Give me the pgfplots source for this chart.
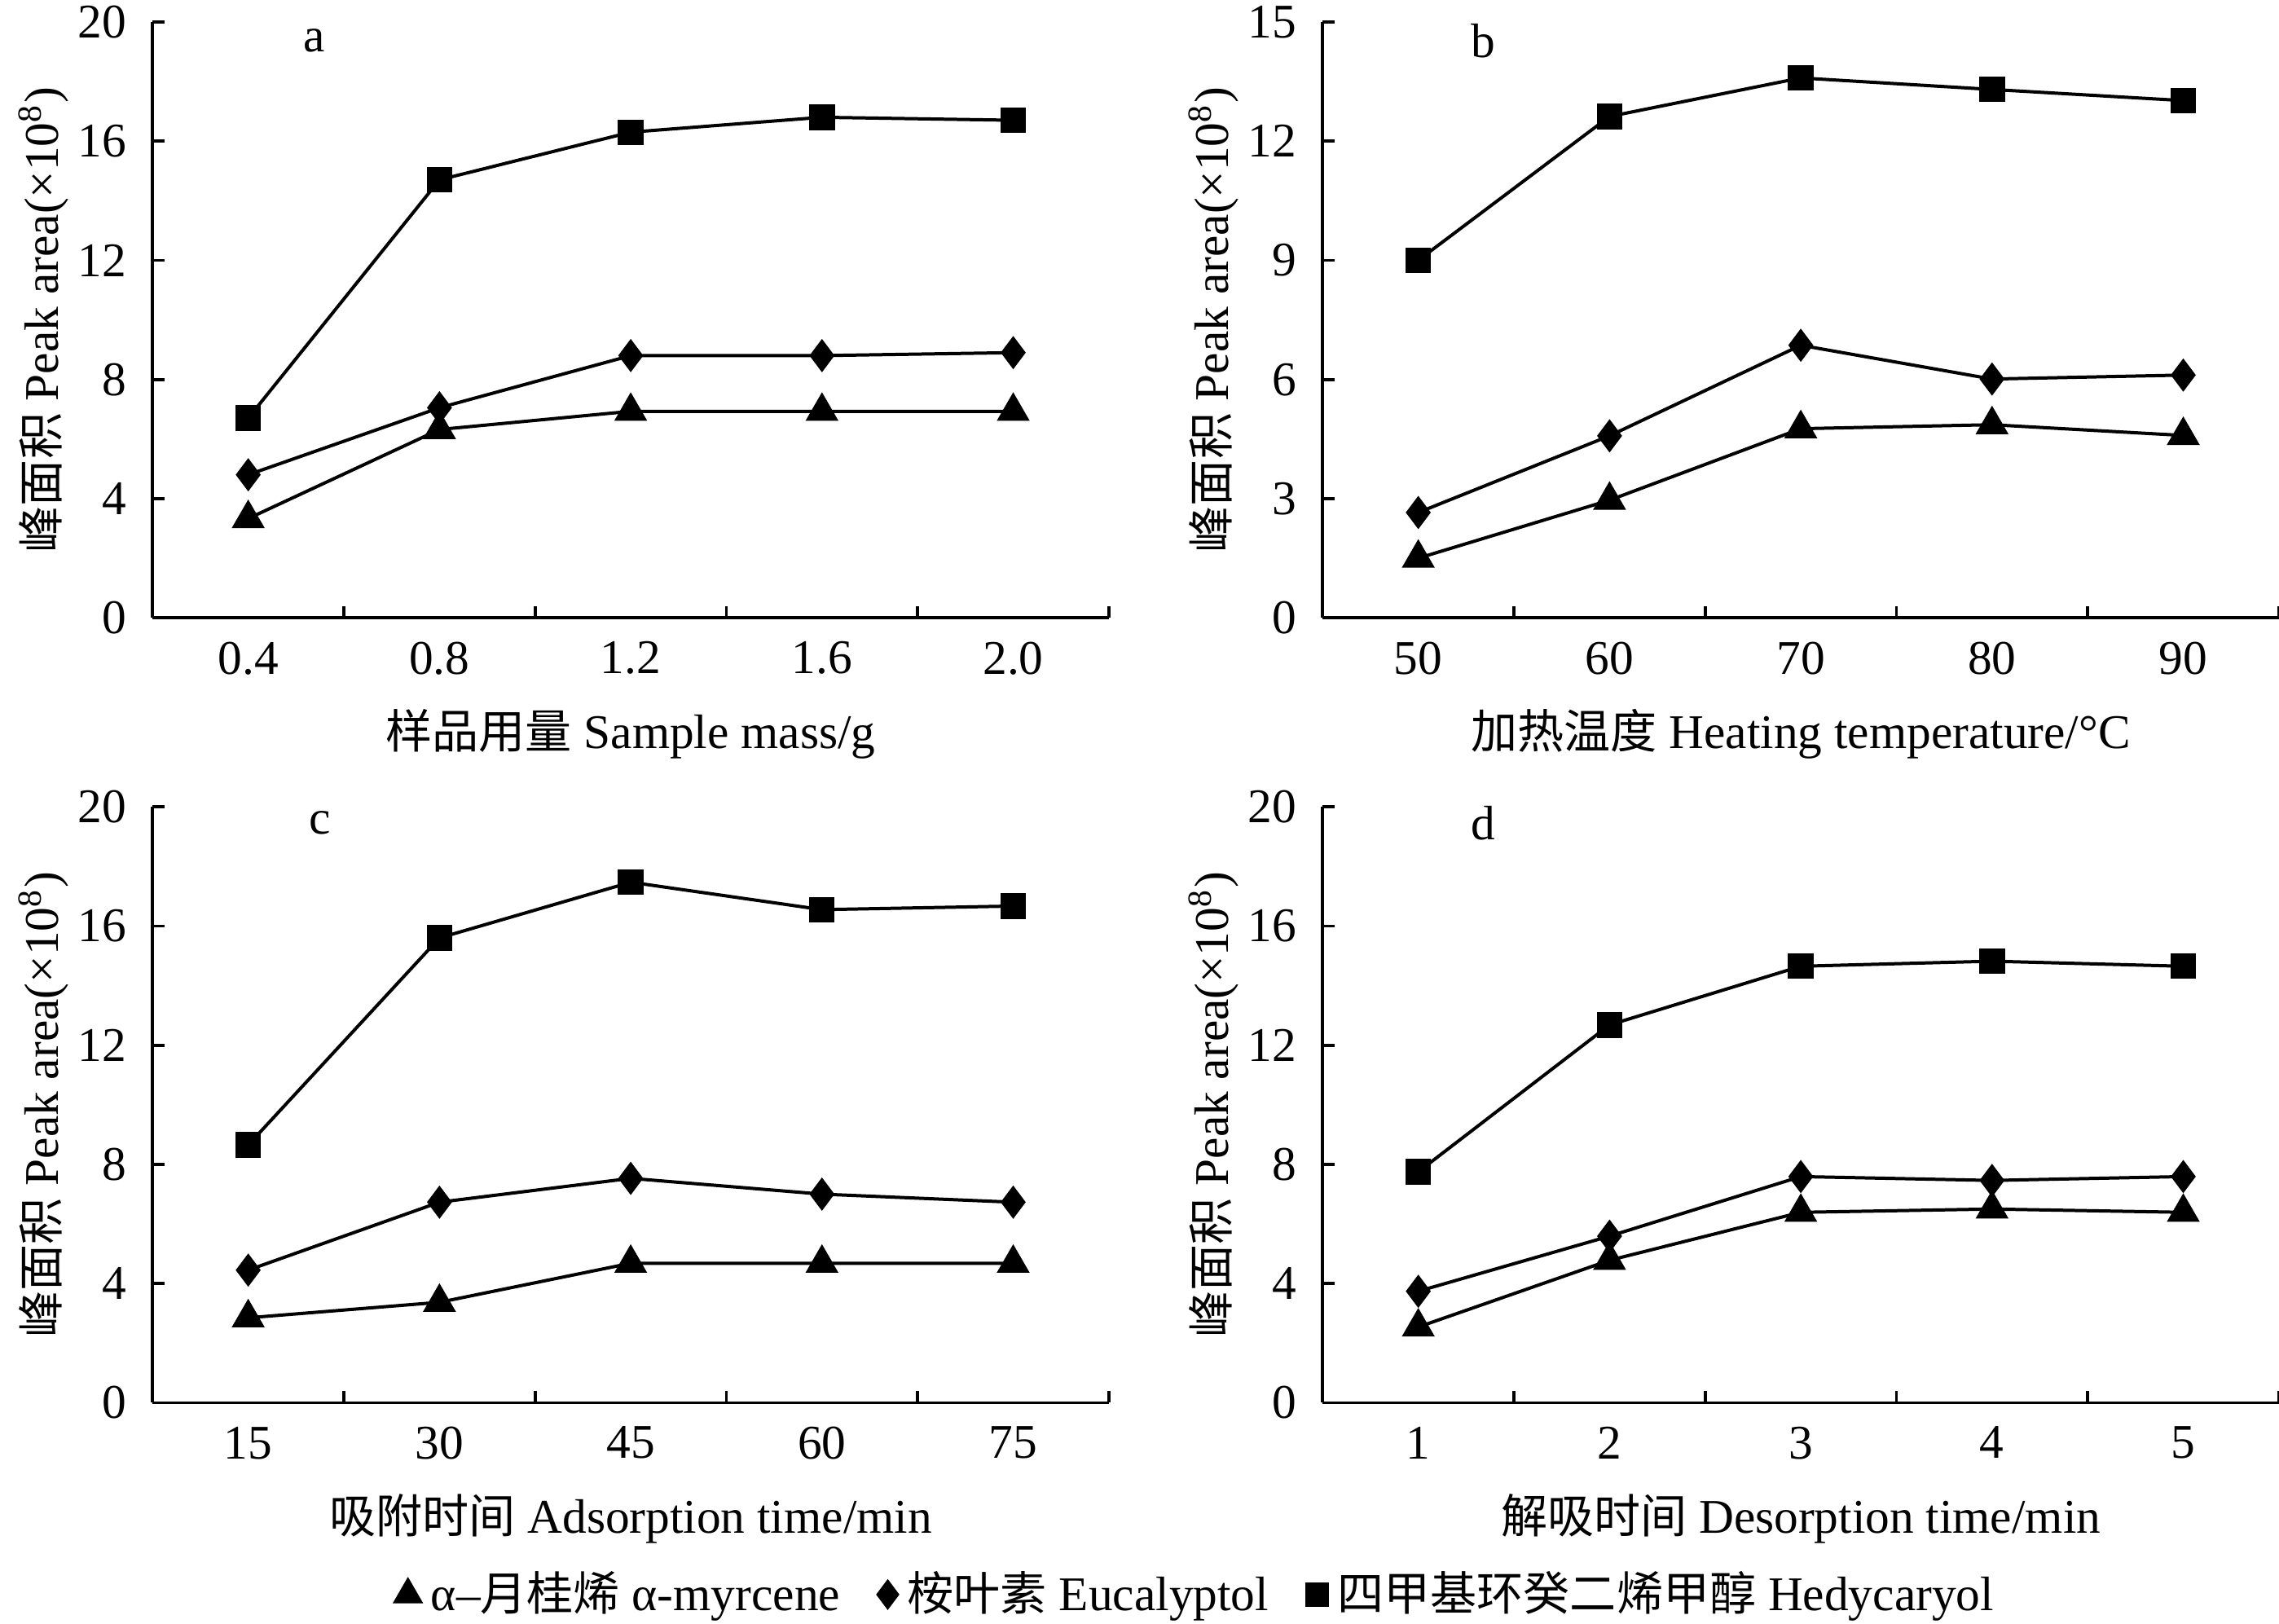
\documentclass[border=0pt]{standalone}
\usepackage{pgfplots}
\pgfplotsset{compat=1.18}
\usepackage{fontspec}
\setmainfont{Liberation Serif}[Scale=1.04]
\newfontfamily\cjk{Noto Sans CJK SC}

\pgfplotsset{
 panel/.style={
  scale only axis, width=205.6pt, height=128.1pt,
  anchor=south west,
  axis x line=bottom, axis y line=left,
  axis line style={-, line width=0.65pt, black},
  tick align=inside,
  major tick length=2.5pt, minor tick length=2.5pt,
  major x tick style={draw=none},
  minor x tick style={line width=0.65pt, black},
  y tick style={line width=0.65pt, black},
  enlargelimits=false, clip=false,
  font=\fontsize{10}{12}\selectfont,
  tick label style={font=\fontsize{10}{12}\selectfont},
  /pgf/number format/assume math mode=true,
  x tick label style={yshift=-1.5pt},
  y tick label style={xshift=-2pt},
  xlabel style={at={(axis description cs:0.5,-0.195)}, anchor=center, font=\fontsize{10}{12}\selectfont},
  ylabel style={at={(axis description cs:-0.114,0.5)}, anchor=center, font=\fontsize{10}{12}\selectfont},
  ylabel={{\cjk 峰面积} Peak area(×10\textsuperscript{8})},
 },
 sq/.style={black, line width=0.7pt, mark=square*, mark size=2.4pt, mark options={solid}},
 di/.style={black, line width=0.7pt, mark=diamond*, mark size=3.0pt, mark options={solid}},
 tr/.style={black, line width=0.7pt, mark=triangle*, mark size=3.4pt, mark options={solid}},
}

\begin{document}
\begin{tikzpicture}
\path[use as bounding box] (0pt,0pt) rectangle (490pt,-349.06pt);

% Panel a
\begin{axis}[panel, at={(32.81pt,-132.81pt)},
  xmin=0.2, xmax=2.2, ymin=0, ymax=20,
  xtick={0.4,0.8,1.2,1.6,2.0}, xticklabels={0.4,0.8,1.2,1.6,2.0},
  minor xtick={0.6,1.0,1.4,1.8,2.2},
  ytick={0,4,8,12,16,20},
  xlabel={{\cjk 样品用量} Sample mass/g}]
\addplot[sq] coordinates {(0.4,6.7) (0.8,14.7) (1.2,16.3) (1.6,16.8) (2.0,16.7)};
\addplot[di] coordinates {(0.4,4.8) (0.8,7.05) (1.2,8.8) (1.6,8.8) (2.0,8.9)};
\addplot[tr] coordinates {(0.4,3.33) (0.8,6.32) (1.2,6.93) (1.6,6.93) (2.0,6.93)};
\node at (rel axis cs:0.169,0.968) {a};
\end{axis}

% Panel b
\begin{axis}[panel, at={(284.38pt,-132.81pt)},
  xmin=45, xmax=95, ymin=0, ymax=15,
  xtick={50,60,70,80,90},
  minor xtick={55,65,75,85,95},
  ytick={0,3,6,9,12,15},
  xlabel={{\cjk 加热温度} Heating temperature/°C}]
\addplot[sq] coordinates {(50,9.0) (60,12.62) (70,13.59) (80,13.3) (90,13.02)};
\addplot[di] coordinates {(50,2.65) (60,4.58) (70,6.86) (80,6.01) (90,6.11)};
\addplot[tr] coordinates {(50,1.5) (60,2.96) (70,4.76) (80,4.86) (90,4.59)};
\node at (rel axis cs:0.168,0.968) {b};
\end{axis}

% Panel c
\begin{axis}[panel, at={(32.81pt,-301.56pt)},
  xmin=7.5, xmax=82.5, ymin=0, ymax=20,
  xtick={15,30,45,60,75},
  minor xtick={22.5,37.5,52.5,67.5,82.5},
  ytick={0,4,8,12,16,20},
  xlabel={{\cjk 吸附时间} Adsorption time/min},
  legend style={at={(1.094,-0.322)}, anchor=center, draw=none, fill=none,
    legend columns=3, font=\fontsize{10}{12}\selectfont,
    /tikz/every even column/.append style={column sep=6pt}},
  legend cell align=left]
\addlegendimage{legend image code/.code={\pgfsetplotmarksize{3.4pt}\pgfuseplotmark{triangle*}}}
\addlegendentry{α–{\cjk 月桂烯} α-myrcene}
\addlegendimage{legend image code/.code={\pgfsetplotmarksize{3.0pt}\pgfuseplotmark{diamond*}}}
\addlegendentry{{\cjk 桉叶素} Eucalyptol}
\addlegendimage{legend image code/.code={\pgfsetplotmarksize{2.4pt}\pgfuseplotmark{square*}}}
\addlegendentry{{\cjk 四甲基环癸二烯甲醇} Hedycaryol}
\addplot[sq, forget plot] coordinates {(15,8.65) (30,15.6) (45,17.47) (60,16.55) (75,16.67)};
\addplot[di, forget plot] coordinates {(15,4.45) (30,6.73) (45,7.53) (60,7.0) (75,6.73)};
\addplot[tr, forget plot] coordinates {(15,2.85) (30,3.37) (45,4.68) (60,4.68) (75,4.68)};
\node at (rel axis cs:0.175,0.973) {c};
\end{axis}

% Panel d
\begin{axis}[panel, at={(284.38pt,-301.56pt)},
  xmin=0.5, xmax=5.5, ymin=0, ymax=20,
  xtick={1,2,3,4,5},
  minor xtick={1.5,2.5,3.5,4.5,5.5},
  ytick={0,4,8,12,16,20},
  xlabel={{\cjk 解吸时间} Desorption time/min}]
\addplot[sq] coordinates {(1,7.75) (2,12.68) (3,14.65) (4,14.82) (5,14.65)};
\addplot[di] coordinates {(1,3.74) (2,5.59) (3,7.59) (4,7.46) (5,7.59)};
\addplot[tr] coordinates {(1,2.54) (2,4.78) (3,6.39) (4,6.5) (5,6.39)};
\node at (rel axis cs:0.168,0.973) {d};
\end{axis}
\end{tikzpicture}
\end{document}
